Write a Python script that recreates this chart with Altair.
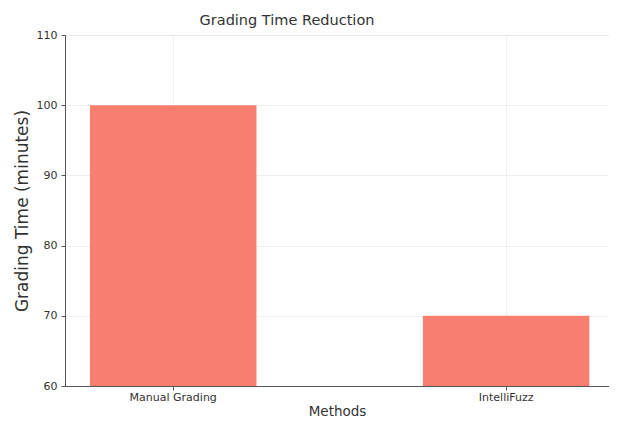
import altair as alt
import pandas as pd

methods = ["Manual Grading", "IntelliFuzz"]
times = [100, 70]
y_ticks = [60, 70, 80, 90, 100, 110]

df = pd.DataFrame({"Method": methods, "Time": times})

FONT = "DejaVu Sans"
GRID = "#ebebeb"
AXC = "#555555"
TXT = "#333333"

chart = alt.Chart(df).mark_bar(color="#F87F6F", clip=True).encode(
    x=alt.X(
        "Method:N",
        sort=methods,
        title="Methods",
        scale=alt.Scale(paddingInner=0.5, paddingOuter=0.067, align=0.56),
        axis=alt.Axis(
            labelAngle=0,
            grid=True,
            gridColor=GRID,
            gridWidth=0.8,
            domainColor=AXC,
            tickColor=AXC,
            tickSize=4,
            labelFontSize=11,
            labelColor=TXT,
            titleFontSize=13.5,
            titleFontWeight="normal",
            titleColor=TXT,
            labelPadding=1,
            titlePadding=2,
            labelFont=FONT,
            titleFont=FONT,
        ),
    ),
    y=alt.Y(
        "Time:Q",
        title="Grading Time (minutes)",
        scale=alt.Scale(domain=[60, 110], zero=False, nice=False),
        axis=alt.Axis(
            values=y_ticks,
            grid=True,
            gridColor=GRID,
            gridWidth=0.8,
            domainColor=AXC,
            tickColor=AXC,
            tickSize=4,
            labelFontSize=11,
            labelColor=TXT,
            titleFontSize=17,
            titleFontWeight="normal",
            titleColor=TXT,
            labelPadding=4,
            titlePadding=5,
            labelFont=FONT,
            titleFont=FONT,
        ),
    ),
    y2=alt.datum(60),
).properties(
    width=544,
    height=351,
    title=alt.TitleParams(
        "Grading Time Reduction",
        fontSize=14.5,
        fontWeight="normal",
        font=FONT,
        color=TXT,
        offset=1,
        dx=-50,
    ),
).configure_view(stroke=None).configure(
    padding={"left": 57, "top": 27, "right": 0, "bottom": 31},
    autosize=alt.AutoSizeParams(type="none"),
)

chart.save("out.html", embed_options={"renderer": "svg", "actions": False})
